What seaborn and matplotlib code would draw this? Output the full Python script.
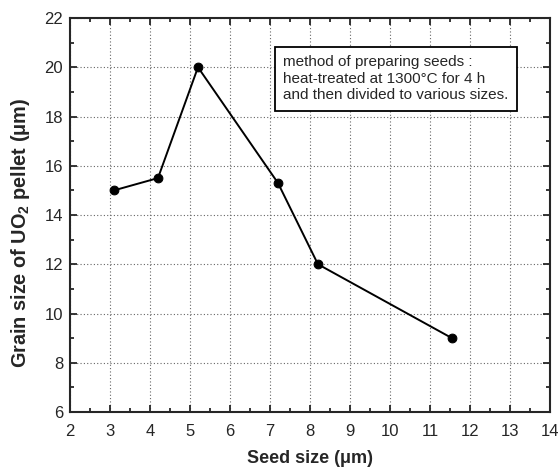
import numpy as np
import pandas as pd
import matplotlib
matplotlib.use("Agg")
import matplotlib.pyplot as plt
from matplotlib.ticker import MultipleLocator
import seaborn as sns

seed_size = [3.1, 4.2, 5.2, 7.2, 8.2, 11.55]
grain_size = [15.0, 15.5, 20.0, 15.3, 12.0, 9.0]
x_ticks = list(range(2, 15))
y_ticks = list(range(6, 23, 2))
note = ("method of preparing seeds :\n"
        "heat-treated at 1300\u00b0C for 4 h\n"
        "and then divided to various sizes.")

sns.set_style("ticks")
plt.rcParams["font.family"] = ["Liberation Sans", "DejaVu Sans"]
plt.rcParams["mathtext.fontset"] = "custom"
plt.rcParams["mathtext.rm"] = "Liberation Sans"
plt.rcParams["mathtext.bf"] = "Liberation Sans:bold"
plt.rcParams["mathtext.default"] = "bf"

df = pd.DataFrame({"seed": seed_size, "grain": grain_size})

fig = plt.figure(figsize=(5.6, 4.7), dpi=100)
ax = fig.add_axes([0.125, 0.1234, 0.857, 0.8383])

sns.lineplot(data=df, x="seed", y="grain", ax=ax, color="black", linewidth=1.4,
             marker="o", markersize=6.3, markeredgecolor="black", sort=False)

ax.set_xlim(2, 14)
ax.set_ylim(6, 22)
ax.set_xticks(x_ticks)
ax.set_yticks(y_ticks)
ax.xaxis.set_minor_locator(MultipleLocator(0.5))
ax.yaxis.set_minor_locator(MultipleLocator(1))
ax.tick_params(which="both", direction="in", top=True, right=True, width=1.3)
ax.tick_params(which="major", length=5, labelsize=12)
ax.tick_params(which="minor", length=3)
ax.tick_params(axis="x", which="major", pad=8.5)
ax.tick_params(axis="y", which="major", pad=5)
ax.grid(True, which="major", linestyle=(0, (1, 2)), color="#666666", linewidth=0.8)
for s in ax.spines.values():
    s.set_linewidth(1.5)

ax.set_xlabel("Seed size (\u03bcm)", fontsize=13, fontweight="bold", labelpad=8)
ax.set_ylabel("Grain size of UO$_2$ pellet (\u03bcm)", fontsize=14.3,
              fontweight="bold")
ax.yaxis.set_label_coords(-0.080, 0.454)

ax.text(7.33, 20.5, note, fontsize=11, va="top", ha="left", linespacing=1.25,
        bbox=dict(boxstyle="square,pad=0.55", facecolor="white", edgecolor="black",
                  linewidth=1.3))

plt.savefig("out.png", dpi=100)
